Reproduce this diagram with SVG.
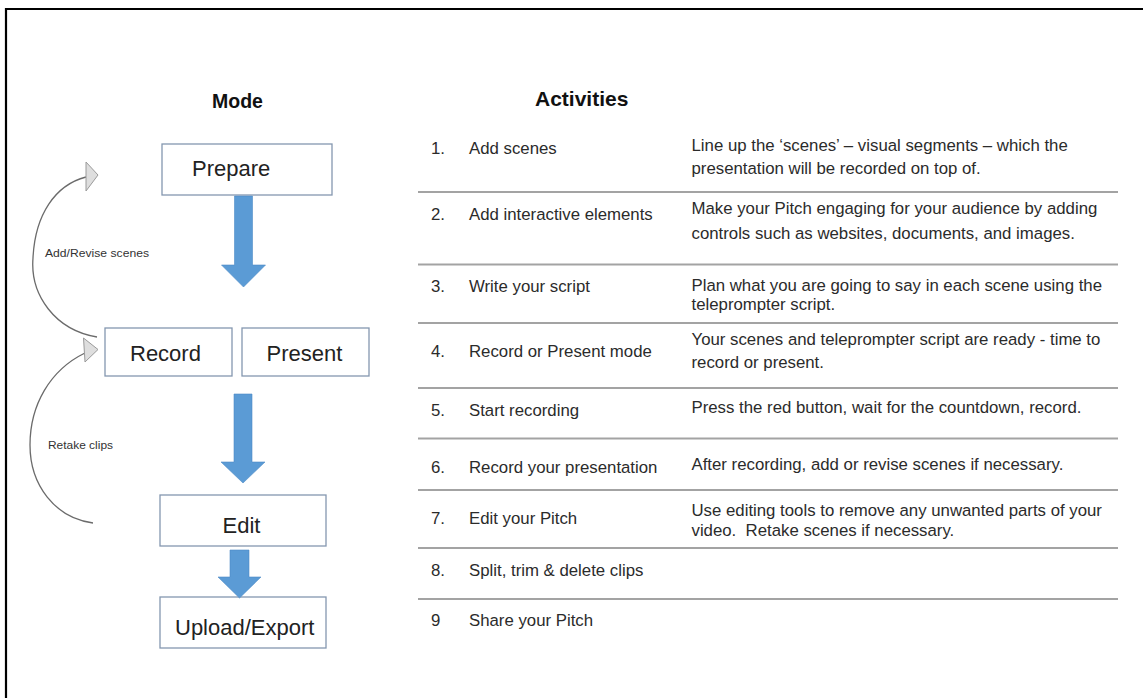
<svg xmlns="http://www.w3.org/2000/svg" width="1143" height="698" viewBox="0 0 1143 698">
<style>
  text { font-family: "Liberation Sans", Arial, sans-serif; }
  .box { fill: #ffffff; stroke: #8497b0; stroke-width: 1.3; }
  .bl { font-size: 22px; fill: #222; }
  .hd { font-weight: bold; fill: #111; }
  .tx { font-size: 16.8px; fill: #2b2b2b; }
  .sep { stroke: #a3a3a3; stroke-width: 2; }
  .blue { fill: #5b9bd5; stroke: #4f8cc6; stroke-width: 0.6; }
  .curve { fill: none; stroke: #6b6b6b; stroke-width: 1.3; }
  .ah { fill: #dedede; stroke: #9a9a9a; stroke-width: 1; }
  .lbl { font-size: 11px; fill: #333; }
</style>
<rect x="0" y="0" width="1143" height="698" fill="#ffffff"/>
<path d="M6,698 V9 H1143" fill="none" stroke="#000" stroke-width="2.2"/>

<text class="hd" x="212" y="108" font-size="19.5">Mode</text>
<text class="hd" x="535" y="106" font-size="21">Activities</text>

<g id="node-prepare">
  <rect class="box" x="162" y="144" width="170" height="51"/>
  <text class="bl" x="192" y="176">Prepare</text>
</g>
<g id="node-record">
  <rect class="box" x="105" y="328" width="127" height="48"/>
  <text class="bl" x="130" y="361">Record</text>
</g>
<g id="node-present">
  <rect class="box" x="242" y="328" width="127" height="48"/>
  <text class="bl" x="266.5" y="361">Present</text>
</g>
<g id="node-edit">
  <rect class="box" x="160" y="495" width="166" height="51"/>
  <text class="bl" x="222.5" y="533">Edit</text>
</g>
<g id="node-upload">
  <rect class="box" x="160" y="597" width="166" height="51"/>
  <text class="bl" x="175" y="635">Upload/Export</text>
</g>

<g id="connectors">
  <path class="blue" d="M234.5,196 H252.5 V265 H265.5 L243.5,287 L221.5,265 H234.5 Z"/>
  <path class="blue" d="M234,394 H252 V462 H265 L243,483 L221,462 H234 Z"/>
  <path class="blue" d="M230,550 H249 V577 H261 L239.5,598 L218,577 H230 Z"/>
  <path class="curve" d="M97,337 C55,330 30,295 33,258 C35,215 55,185 86,177"/>
  <polygon class="ah" points="86,162 98,175 86,191"/>
  <path class="curve" d="M93,523 C55,518 30,485 30,445 C30,405 50,370 85,353"/>
  <polygon class="ah" points="83.5,338 98,349.5 85,362"/>
  <text class="lbl" x="45" y="257" textLength="104" lengthAdjust="spacingAndGlyphs">Add/Revise scenes</text>
  <text class="lbl" x="48" y="449" textLength="65" lengthAdjust="spacingAndGlyphs">Retake clips</text>
</g>

<g id="table-lines">
  <line class="sep" x1="418" y1="192" x2="1118" y2="192"/>
  <line class="sep" x1="418" y1="264.5" x2="1118" y2="264.5"/>
  <line class="sep" x1="418" y1="323" x2="1118" y2="323"/>
  <line class="sep" x1="418" y1="388" x2="1118" y2="388"/>
  <line class="sep" x1="418" y1="438.5" x2="1118" y2="438.5"/>
  <line class="sep" x1="418" y1="490" x2="1118" y2="490"/>
  <line class="sep" x1="418" y1="548" x2="1118" y2="548"/>
  <line class="sep" x1="418" y1="599" x2="1118" y2="599"/>
</g>

<g id="row-1">
  <text class="tx" x="431" y="154">1.</text>
  <text class="tx" x="469" y="154">Add scenes</text>
  <text class="tx" x="691.5" y="150.5">Line up the ‘scenes’ – visual segments – which the</text>
  <text class="tx" x="691.5" y="173.5">presentation will be recorded on top of.</text>
</g>
<g id="row-2">
  <text class="tx" x="431" y="219.5">2.</text>
  <text class="tx" x="469" y="219.5">Add interactive elements</text>
  <text class="tx" x="691.5" y="214">Make your Pitch engaging for your audience by adding</text>
  <text class="tx" x="691.5" y="238.5">controls such as websites, documents, and images.</text>
</g>
<g id="row-3">
  <text class="tx" x="431" y="291.5">3.</text>
  <text class="tx" x="469" y="291.5">Write your script</text>
  <text class="tx" x="691.5" y="291">Plan what you are going to say in each scene using the</text>
  <text class="tx" x="691.5" y="310">teleprompter script.</text>
</g>
<g id="row-4">
  <text class="tx" x="431" y="356.5">4.</text>
  <text class="tx" x="469" y="356.5">Record or Present mode</text>
  <text class="tx" x="691.5" y="345">Your scenes and teleprompter script are ready - time to</text>
  <text class="tx" x="691.5" y="368">record or present.</text>
</g>
<g id="row-5">
  <text class="tx" x="431" y="416">5.</text>
  <text class="tx" x="469" y="416">Start recording</text>
  <text class="tx" x="691.5" y="413">Press the red button, wait for the countdown, record.</text>
</g>
<g id="row-6">
  <text class="tx" x="431" y="473">6.</text>
  <text class="tx" x="469" y="473">Record your presentation</text>
  <text class="tx" x="691.5" y="470">After recording, add or revise scenes if necessary.</text>
</g>
<g id="row-7">
  <text class="tx" x="431" y="524">7.</text>
  <text class="tx" x="469" y="524">Edit your Pitch</text>
  <text class="tx" x="691.5" y="515.5">Use editing tools to remove any unwanted parts of your</text>
  <text class="tx" x="691.5" y="536" xml:space="preserve">video.  Retake scenes if necessary.</text>
</g>
<g id="row-8">
  <text class="tx" x="431" y="576">8.</text>
  <text class="tx" x="469" y="576">Split, trim &amp; delete clips</text>
</g>
<g id="row-9">
  <text class="tx" x="431" y="626">9</text>
  <text class="tx" x="469" y="626">Share your Pitch</text>
</g>
</svg>
